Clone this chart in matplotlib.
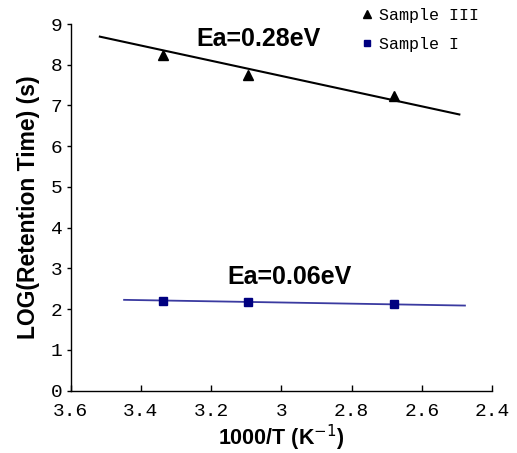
import matplotlib
matplotlib.use('Agg')
import matplotlib.pyplot as plt
from matplotlib.lines import Line2D

# measured points (1000/T, log retention time)
inv_t = [3.336, 3.096, 2.68]
sample3 = [8.25, 7.75, 7.23]
sample1 = [2.19, 2.17, 2.14]

# trend lines as drawn (end points)
fit3_x = [3.517, 2.493]
fit3_y = [8.69, 6.78]
fit1_x = [3.448, 2.477]
fit1_y = [2.23, 2.09]

tick_font = 'Liberation Mono'
label_font = 'Liberation Sans'

fig = plt.figure(figsize=(5.17, 4.53), dpi=100)
ax = fig.add_axes([0.1368, 0.1375, 0.8148, 0.8095])

ax.plot(fit3_x, fit3_y, color='black', lw=1.5)
ax.plot(fit1_x, fit1_y, color='#3a3aa0', lw=1.3)
ax.plot(inv_t, sample3, linestyle='none', marker='^', ms=6.5, color='black')
ax.plot(inv_t, sample1, linestyle='none', marker='s', ms=5.5, color='#000080')

ax.set_xlim(3.6, 2.4)
ax.set_ylim(0, 9)
ax.set_xticks([3.6, 3.4, 3.2, 3.0, 2.8, 2.6, 2.4])
ax.set_xticklabels(['3.6', '3.4', '3.2', '3', '2.8', '2.6', '2.4'])
ax.set_yticks(range(10))

for s in ['top', 'right']:
    ax.spines[s].set_visible(False)
for s in ['left', 'bottom']:
    ax.spines[s].set_linewidth(1.0)

ax.tick_params(axis='x', direction='in', length=4, width=1, pad=9)
ax.tick_params(axis='y', direction='out', length=3, width=1, pad=3)
for lab in ax.get_xticklabels() + ax.get_yticklabels():
    lab.set_fontfamily(tick_font)
    lab.set_fontsize(14)

ax.set_xlabel('1000/T (K$^{-1}$)', fontfamily=label_font, fontweight='bold',
              fontsize=15.5, labelpad=2)
ax.set_ylabel('LOG(Retention Time) (s)', fontfamily=label_font, fontweight='bold',
              fontsize=16.5, labelpad=8)

ax.text(3.064, 8.63, 'Ea=0.28eV', ha='center', va='center',
        fontfamily=label_font, fontweight='heavy', fontsize=18)
ax.text(2.976, 2.79, 'Ea=0.06eV', ha='center', va='center',
        fontfamily=label_font, fontweight='heavy', fontsize=18)

handles = [Line2D([], [], linestyle='none', marker='^', ms=6, color='black'),
           Line2D([], [], linestyle='none', marker='s', ms=5, color='#000080')]
fig.legend(handles, ['Sample III', 'Sample I'], loc='upper left',
           bbox_to_anchor=(0.672, 1.015), frameon=False,
           prop={'family': tick_font, 'size': 12},
           handlelength=0.6, handletextpad=0.4, labelspacing=0.8)

fig.savefig('out.png', dpi=100)
